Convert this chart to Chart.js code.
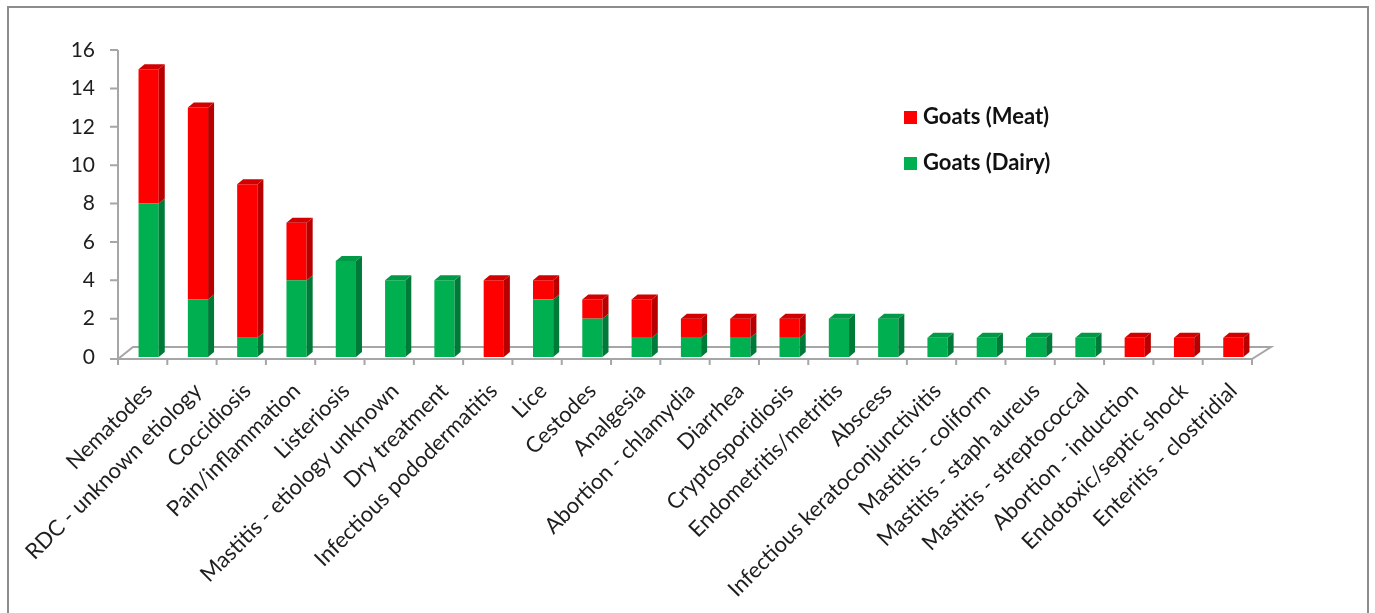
<!DOCTYPE html>
<html>
<head>
<meta charset="utf-8">
<script src="https://cdn.jsdelivr.net/npm/chart.js@4.4.1/dist/chart.umd.min.js"></script>
<style>
    html, body { margin: 0; padding: 0; background: #fff; }
    #wrap { position: relative; width: 1375px; height: 613px; overflow: hidden; }
    #frame { position: absolute; left: 7px; top: 6px; width: 1362px; height: 640px; border: 2px solid #8c8c8c; border-bottom: none; box-sizing: border-box; }
    .leg { position: absolute; left: 904px; font: bold 22px Lato, sans-serif; color: #111; white-space: nowrap; }
    .leg i { display: inline-block; width: 13px; height: 13px; margin-right: 6px; vertical-align: 0px; }
</style>
</head>
<body>
<div id="wrap">
    <div id="frame"></div>
    <canvas id="myChart" width="1375" height="613"></canvas>
    <div class="leg" style="top:102px"><i style="background:#FF0000"></i>Goats (Meat)</div>
    <div class="leg" style="top:148px"><i style="background:#00B050"></i>Goats (Dairy)</div>
</div>
<script>
const categories = [
    'Nematodes', 'RDC - unknown etiology', 'Coccidiosis', 'Pain/inflammation', 'Listeriosis',
    'Mastitis - etiology unknown', 'Dry treatment', 'Infectious pododermatitis', 'Lice', 'Cestodes',
    'Analgesia', 'Abortion - chlamydia', 'Diarrhea', 'Cryptosporidiosis', 'Endometritis/metritis',
    'Abscess', 'Infectious keratoconjunctivitis', 'Mastitis - coliform', 'Mastitis - staph aureus',
    'Mastitis - streptococcal', 'Abortion - induction', 'Endotoxic/septic shock', 'Enteritis - clostridial'
];
const dairy = [8, 3, 1, 4, 5, 4, 4, 0, 3, 2, 1, 1, 1, 1, 2, 2, 1, 1, 1, 1, 0, 0, 0];
const meat  = [7, 10, 8, 3, 0, 0, 0, 4, 1, 1, 2, 1, 1, 1, 0, 0, 0, 0, 0, 0, 1, 1, 1];
const yMin = 0, yMax = 16, yStep = 2;

const colorVar = {
    red: '#FF0000',
    redSide: '#B80000',
    redTop: '#D20000',
    green: '#00B050',
    greenSide: '#007A38',
    greenTop: '#009A46',
    axis: '#a6a6a6',
    text: '#1e1e1e',
}

const dx = 6, dy = 5;

function poly(ctx, pts, fill) {
    ctx.beginPath();
    ctx.moveTo(pts[0][0], pts[0][1]);
    for (let i = 1; i < pts.length; i++) ctx.lineTo(pts[i][0], pts[i][1]);
    ctx.closePath();
    ctx.fillStyle = fill;
    ctx.fill();
}

const bars3d = {
    id: 'bars3d',
    beforeDatasetsDraw(chart) {
        const { ctx, chartArea: a, scales: { y } } = chart;
        const step = a.width / categories.length;
        const x0 = a.left - 6, y0 = a.bottom + 2;
        const x1 = x0 + categories.length * step;
        ctx.save();
        ctx.strokeStyle = colorVar.axis;
        ctx.lineWidth = 2;
        ctx.beginPath();
        // floor
        ctx.moveTo(x0, y0); ctx.lineTo(x1, y0);
        ctx.lineTo(x1 + 19, y0 - 12); ctx.lineTo(x0 + 15, y0 - 12); ctx.lineTo(x0, y0);
        // y axis
        ctx.moveTo(x0, y.getPixelForValue(yMax)); ctx.lineTo(x0, y0);
        for (let v = yMin; v <= yMax; v += yStep) {
            const py = v === 0 ? y0 : y.getPixelForValue(v);
            ctx.moveTo(x0 - 8, py); ctx.lineTo(x0, py);
        }
        for (let i = 0; i <= categories.length; i++) {
            const px = x0 + i * step;
            ctx.moveTo(px, y0); ctx.lineTo(px, y0 + 6);
        }
        ctx.stroke();
        ctx.restore();
    },
    afterDatasetsDraw(chart) {
        const { ctx } = chart;
        const faces = [[colorVar.greenSide, colorVar.greenTop], [colorVar.redSide, colorVar.redTop]];
        ctx.save();
        chart.data.datasets.forEach((ds, di) => {
            const meta = chart.getDatasetMeta(di);
            meta.data.forEach((bar, i) => {
                if (!ds.data[i]) return;
                const l = bar.x - bar.width / 2, r = bar.x + bar.width / 2;
                const t = Math.min(bar.y, bar.base), b = Math.max(bar.y, bar.base);
                poly(ctx, [[r, t], [r + dx, t - dy], [r + dx, b - dy], [r, b]], faces[di][0]);
                const above = chart.data.datasets.slice(di + 1).some(o => o.data[i]);
                if (!above) poly(ctx, [[l, t], [l + dx, t - dy], [r + dx, t - dy], [r, t]], faces[di][1]);
            });
        });
        ctx.restore();
    }
};

const ctx = document.getElementById('myChart');

new Chart(ctx, {
    type: 'bar',
    data: {
        labels: categories,
        datasets: [
            { label: 'Goats (Dairy)', data: dairy, backgroundColor: colorVar.green, borderWidth: 0 },
            { label: 'Goats (Meat)', data: meat, backgroundColor: colorVar.red, borderWidth: 0 },
        ]
    },
    plugins: [bars3d],
    options: {
        responsive: false,
        animation: false,
        layout: { padding: { top: 50, right: 117, bottom: 0, left: 0 } },
        datasets: { bar: { categoryPercentage: 1, barPercentage: 0.41 } },
        plugins: { legend: { display: false }, tooltip: { enabled: false } },
        scales: {
            x: {
                stacked: true,
                grid: { display: false, drawTicks: false },
                border: { display: false },
                ticks: {
                    autoSkip: false, maxRotation: 45, minRotation: 45, padding: 21,
                    color: colorVar.text, font: { family: 'Lato', size: 22 }
                },
                afterFit(scale) { scale.height = 256; }
            },
            y: {
                stacked: true,
                min: yMin, max: yMax,
                grid: { display: false, drawTicks: false },
                border: { display: false },
                ticks: { stepSize: yStep, padding: 29, color: colorVar.text, font: { family: 'Lato', size: 21 } },
                afterFit(scale) { scale.width = 124; }
            }
        }
    }
});
</script>
</body>
</html>
